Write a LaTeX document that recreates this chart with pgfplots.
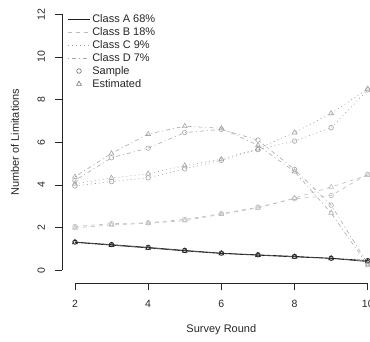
\documentclass[border=0pt]{standalone}
\usepackage{fontspec}
\setmainfont{Liberation Sans}
\usepackage{pgfplots}
\pgfplotsset{compat=1.18}
\definecolor{cA}{HTML}{1E1E1E}
\definecolor{cB}{HTML}{BDBDBD}
\definecolor{cC}{HTML}{A2A2A2}
\definecolor{cD}{HTML}{A8A8A8}
\definecolor{cM}{HTML}{6E6E6E}
\definecolor{cT}{HTML}{262626}
\begin{document}
\begin{tikzpicture}
\begin{axis}[name=ax, scale only axis, width=317.7pt, height=279.9pt,
  xmin=1.66, xmax=10.34, ymin=-0.62, ymax=12.5, clip=false,
  axis lines*=left, axis line style={draw=none},
  xtick={2,4,6,8,10}, ytick={0,2,4,6,8,10,12},
  tick align=outside, major tick length=7pt,
  tick style={cT, line width=0.6pt},
  /pgf/number format/assume math mode=true,
  tick label style={font=\fontsize{10.5}{12}\selectfont, text=cT},
  xticklabel shift=6pt,
  yticklabel style={rotate=90, anchor=south},
  yticklabel shift=7pt,
  label style={font=\fontsize{11}{13}\selectfont, text=cT},
  xlabel={Survey Round},
  xlabel style={at={(axis cs:6,-2.8)}, anchor=center},
  ylabel={Number of Limitations},
  ylabel style={at={(axis cs:0.36,6)}, anchor=center},
  legend image code/.code={\draw[mark repeat=2,mark phase=2,#1] plot coordinates {(0pt,0pt) (11pt,0pt) (22pt,0pt)};},
  legend style={draw=none, fill=none, at={(0.0,0.985)}, anchor=north west,
    xshift=5pt, yshift=-4.5pt,
    font=\fontsize{11}{13}\selectfont, text=cT, row sep=-0.5pt, inner sep=0pt,
    /tikz/column 2/.style={column sep=5pt}},
  legend cell align=left,
  every axis plot/.append style={line width=0.6pt},
]
\addlegendimage{cA, solid}
\addlegendentry{Class A 68\%}
\addlegendimage{cB, dash pattern=on 4pt off 4pt}
\addlegendentry{Class B 18\%}
\addlegendimage{cC, dash pattern=on 1pt off 3pt}
\addlegendentry{Class C 9\%}
\addlegendimage{cD, dash pattern=on 1pt off 3pt on 4pt off 3pt}
\addlegendentry{Class D 7\%}
\addlegendimage{only marks, mark=o, cM, mark size=2.3pt}
\addlegendentry{Sample}
\addlegendimage{only marks, mark=triangle, cM, mark size=2.8pt}
\addlegendentry{Estimated}

% Class A
\addplot[forget plot, cA, solid, mark=o, mark size=2.3pt, mark options={solid}] coordinates {
 (2,1.32) (3,1.20) (4,1.07) (5,0.93) (6,0.80) (7,0.72) (8,0.65) (9,0.56) (10,0.45)};
\addplot[forget plot, cA, solid, mark=triangle, mark size=2.8pt, mark options={solid}] coordinates {
 (2,1.30) (3,1.17) (4,1.04) (5,0.90) (6,0.78) (7,0.70) (8,0.62) (9,0.55) (10,0.40)};
% Class B
\addplot[forget plot, cB, dash pattern=on 4pt off 4pt, mark=o, mark size=2.3pt, mark options={solid}] coordinates {
 (2,2.05) (3,2.18) (4,2.22) (5,2.38) (6,2.65) (7,2.95) (8,3.35) (9,3.50) (10,4.50)};
\addplot[forget plot, cB, dash pattern=on 4pt off 4pt, mark=triangle, mark size=2.8pt, mark options={solid}] coordinates {
 (2,1.98) (3,2.12) (4,2.20) (5,2.32) (6,2.62) (7,2.92) (8,3.38) (9,3.90) (10,4.45)};
% Class C
\addplot[forget plot, cC, dash pattern=on 1pt off 3pt, mark=o, mark size=2.3pt, mark options={solid}] coordinates {
 (2,3.95) (3,4.15) (4,4.33) (5,4.75) (6,5.15) (7,5.65) (8,6.05) (9,6.68) (10,8.45)};
\addplot[forget plot, cC, dash pattern=on 1pt off 3pt, mark=triangle, mark size=2.8pt, mark options={solid}] coordinates {
 (2,4.05) (3,4.32) (4,4.52) (5,4.90) (6,5.20) (7,5.70) (8,6.45) (9,7.35) (10,8.50)};
% Class D
\addplot[forget plot, cD, dash pattern=on 1pt off 3pt on 4pt off 3pt, mark=o, mark size=2.3pt, mark options={solid}] coordinates {
 (2,4.20) (3,5.27) (4,5.72) (5,6.45) (6,6.60) (7,6.10) (8,4.72) (9,3.05) (10,0.30)};
\addplot[forget plot, cD, dash pattern=on 1pt off 3pt on 4pt off 3pt, mark=triangle, mark size=2.8pt, mark options={solid}] coordinates {
 (2,4.38) (3,5.47) (4,6.38) (5,6.75) (6,6.65) (7,5.85) (8,4.62) (9,2.68) (10,0.22)};

\draw[cT, line width=0.6pt] (axis cs:1.66,0) -- (axis cs:1.66,12);
\draw[cT, line width=0.6pt] (axis cs:2,-0.62) -- (axis cs:10,-0.62);
\end{axis}
\pgfresetboundingbox
\useasboundingbox ([shift={(-62.5pt,-57.6pt)}]ax.south west) rectangle ([shift={(307.5pt,283.4pt)}]ax.south west);
\end{tikzpicture}
\end{document}
